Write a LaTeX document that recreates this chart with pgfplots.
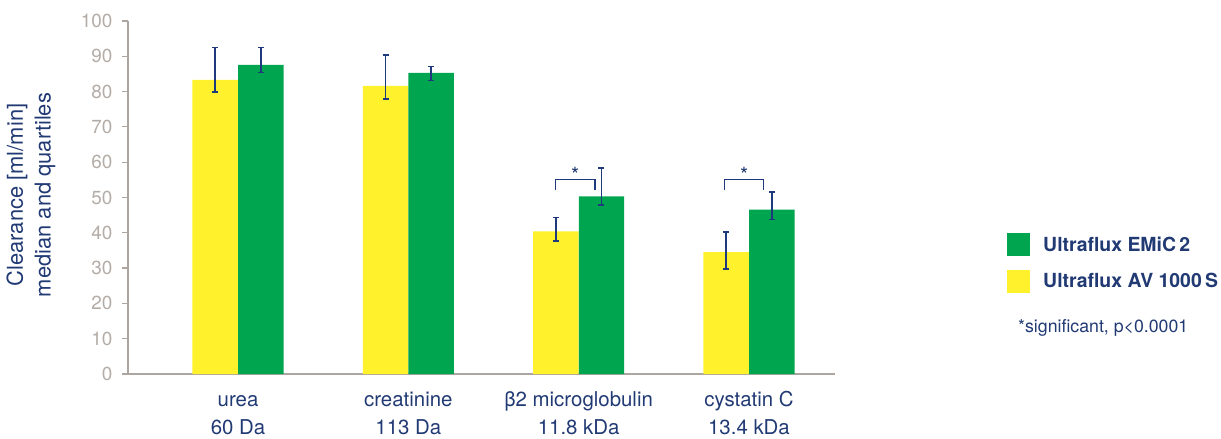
\documentclass[border=0pt]{standalone}
\usepackage{pgfplots}
\pgfplotsset{compat=1.18}
\usepackage{fontspec}
\setmainfont{TeX Gyre Heros}
\definecolor{navy}{HTML}{213A74}
\definecolor{barnavy}{HTML}{1E3A7C}
\definecolor{yel}{HTML}{FFF12B}
\definecolor{grn}{HTML}{00A54F}
\definecolor{tickgray}{HTML}{B4ACA6}
\definecolor{axisgray}{HTML}{ADA59F}
\begin{document}
\begin{tikzpicture}
\begin{axis}[
  at={(0,0)}, anchor=south west,
  scale only axis, width=707bp, height=353bp,
  xmin=-0.646, xmax=3.505, ymin=0, ymax=100,
  axis lines*=left,
  axis line style={color=axisgray, line width=1.2bp},
  xtick={0,1,2,3},
  xticklabels={{\strut urea\\60 Da},{\strut creatinine\\113 Da},{\strut β2 microglobulin\\11.8 kDa},{\strut cystatin C\\13.4 kDa}},
  x tick style={draw=none},
  xticklabel style={font=\fontsize{20.5}{28}\selectfont, align=center, text=navy, inner sep=0pt, yshift=-7bp},
  ytick={0,10,...,100},
  y tick style={color=axisgray, line width=1.2bp},
  tick align=outside, major tick length=6bp,
  yticklabel style={font=\fontsize{19}{20}\selectfont, text=tickgray, xshift=-6bp},
  /pgf/number format/assume math mode=true,
  clip=false,
  error bars/error bar style={barnavy, line width=1.6bp},
  error bars/error mark options={barnavy, line width=1.5bp, mark size=3bp, rotate=90},
  reverse legend,
  legend cell align=left,
  legend image code/.code={\path[fill, draw=none] (0bp,-11.5bp) rectangle (23bp,11.5bp);},
  legend style={at={(axis description cs:1.2433,0.315)}, anchor=west, draw=none, fill=none,
    inner sep=0pt, row sep=13.5bp, text=navy,
    font=\fontsize{19.5}{20}\selectfont\bfseries,
    nodes={inner sep=0pt},
    /tikz/every odd column/.append style={column sep=13bp}},
]
\addplot[ybar, bar width=0.267, bar shift=0pt, fill=yel, draw=none,
  error bars/.cd, y dir=both, y explicit]
  coordinates {(-0.134,83.3) += (0,9.2) -= (0,3.4)
               (0.866,81.6) += (0,8.8) -= (0,3.7)
               (1.866,40.4) += (0,4.0) -= (0,2.7)
               (2.866,34.5) += (0,5.7) -= (0,4.7)};
\addlegendentry{Ultraflux AV 1000\,S}
\addplot[ybar, bar width=0.267, bar shift=0pt, fill=grn, draw=none,
  error bars/.cd, y dir=both, y explicit]
  coordinates {(0.134,87.6) += (0,4.9) -= (0,2.2)
               (1.134,85.3) += (0,1.8) -= (0,2.1)
               (2.134,50.3) += (0,8.0) -= (0,2.4)
               (3.134,46.6) += (0,4.9) -= (0,2.8)};
\addlegendentry{Ultraflux EMiC\,2}
\addplot[barnavy, line width=1.2bp, forget plot, mark=none] coordinates {(1.865,52.1) (1.865,55.0) (2.096,55.0) (2.096,52.1)};
\addplot[barnavy, line width=1.2bp, forget plot, mark=none] coordinates {(2.858,52.1) (2.858,55.0) (3.086,55.0) (3.086,52.1)};
\node[text=navy, font=\fontsize{21}{21}\selectfont, anchor=base, inner sep=0pt] at (axis cs:1.98,54.3) {*};
\node[text=navy, font=\fontsize{21}{21}\selectfont, anchor=base, inner sep=0pt] at (axis cs:2.972,54.3) {*};
\end{axis}
\node[rotate=90, align=center, text=navy, font=\fontsize{22}{28}\selectfont, inner sep=0pt] at (-97bp,179bp) {Clearance [ml/min]\\median and quartiles};
\node[anchor=west, text=navy, font=\fontsize{17.8}{20}\selectfont, inner sep=0pt] at (890bp,46bp) {*significant, p<0.0001};
\pgfresetboundingbox
\useasboundingbox (-128bp,-65bp) rectangle (1093bp,374bp);
\end{tikzpicture}
\end{document}
